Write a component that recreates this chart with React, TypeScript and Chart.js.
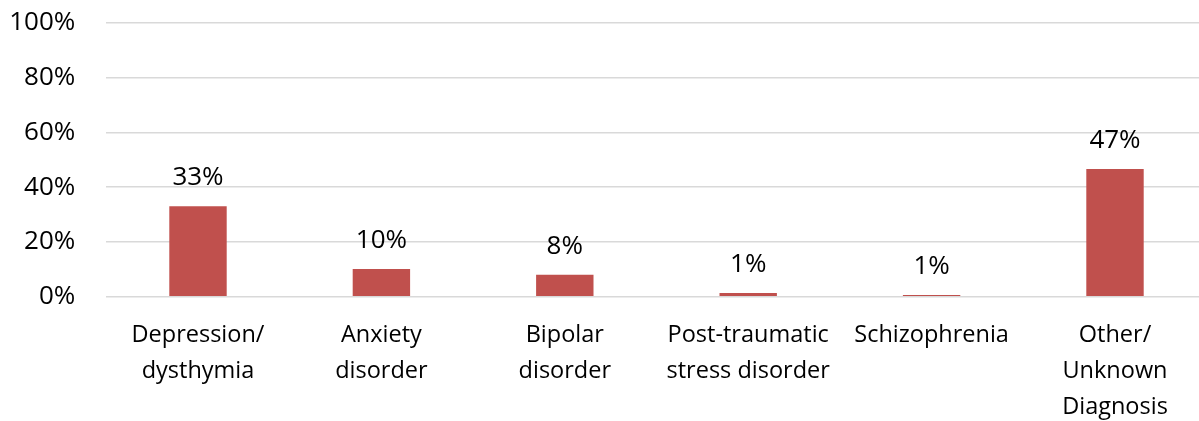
import React, { useEffect, useRef } from "react";
import { Chart, registerables } from "chart.js";

Chart.register(...registerables);

const categories: string[][] = [
  ["Depression/", "dysthymia"],
  ["Anxiety", "disorder"],
  ["Bipolar", "disorder"],
  ["Post-traumatic", "stress disorder"],
  ["Schizophrenia"],
  ["Other/", "Unknown", "Diagnosis"],
];
const values: number[] = [33, 10.1, 8.0, 1.35, 0.6, 46.6];
const valueLabels: string[] = ["33%", "10%", "8%", "1%", "1%", "47%"];
const yTicks: number[] = [0, 20, 40, 60, 80, 100];

const FONT = '"Open Sans", "DejaVu Sans", sans-serif';
const NUM_SIZE = 26;
const CAT_SIZE = 23.5;
const CANVAS_W = 1215;
const CANVAS_H = 421;

const dataLabelPlugin = {
  id: "dataLabels",
  afterDatasetsDraw(chart: any) {
    const ctx = chart.ctx;
    const meta = chart.getDatasetMeta(0);
    ctx.save();
    ctx.fillStyle = "#000000";
    ctx.font = `${NUM_SIZE}px ${FONT}`;
    ctx.textAlign = "center";
    ctx.textBaseline = "alphabetic";
    meta.data.forEach((bar: any, i: number) => {
      ctx.fillText(valueLabels[i], bar.x, bar.y - 21);
    });
    ctx.restore();
  },
};

export default function App() {
  const ref = useRef<HTMLCanvasElement | null>(null);
  useEffect(() => {
    if (!ref.current) return;
    const chart = new Chart(ref.current, {
      type: "bar",
      data: {
        labels: categories,
        datasets: [
          {
            data: values,
            backgroundColor: "#C0504D",
            borderWidth: 0,
            categoryPercentage: 1,
            barPercentage: 0.313,
          },
        ],
      },
      options: {
        responsive: false,
        animation: false,
        layout: { padding: { top: 22.7, right: 8.3, left: 0, bottom: 0 } },
        plugins: { legend: { display: false }, tooltip: { enabled: false } },
        scales: {
          x: {
            grid: { display: false, drawTicks: false },
            border: { display: false },
            ticks: {
              color: "#000000",
              font: { family: FONT, size: CAT_SIZE, lineHeight: 36 / CAT_SIZE },
              padding: 21,
              maxRotation: 0,
              autoSkip: false,
            },
            afterFit: (scale: any) => {
              scale.height = 124.3;
              scale.paddingLeft = 0;
              scale.paddingRight = 0;
            },
          },
          y: {
            min: 0,
            max: 100,
            afterBuildTicks: (scale: any) => {
              scale.ticks = yTicks.map((v) => ({ value: v }));
            },
            grid: { color: "#D9D9D9", lineWidth: 1.5, drawTicks: false },
            border: { display: false },
            ticks: {
              color: "#000000",
              font: { family: FONT, size: NUM_SIZE },
              padding: 31,
              callback: (v: any) => `${v}%`,
            },
            afterFit: (scale: any) => {
              scale.width = 106.3;
              scale.paddingTop = 0;
              scale.paddingBottom = 0;
            },
          },
        },
      },
      plugins: [dataLabelPlugin],
    });
    return () => chart.destroy();
  }, []);

  return (
    <div
      style={{
        position: "fixed",
        left: 0,
        top: 0,
        width: 1199,
        height: 421,
        overflow: "hidden",
        background: "#ffffff",
      }}
    >
      <canvas
        ref={ref}
        width={CANVAS_W}
        height={CANVAS_H}
        style={{ width: CANVAS_W, height: CANVAS_H, display: "block" }}
      />
    </div>
  );
}
